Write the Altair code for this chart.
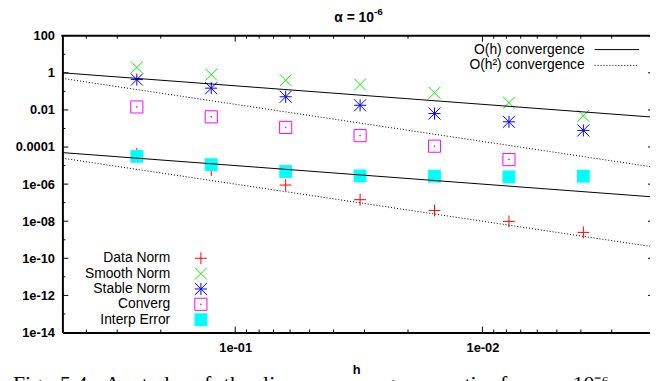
import altair as alt
import pandas as pd

# ---------------- data ----------------
h = [0.25, 0.125, 0.0625, 0.03125, 0.015625, 0.0078125, 0.00390625]
data_norm = [4.2e-5, 5.8e-6, 8.9e-7, 1.45e-7, 3.8e-8, 9.8e-9, 2.5e-9]
smooth_norm = [1.96, 0.80, 0.40, 0.234, 0.084, 0.0245, 0.0048]
stable_norm = [0.434, 0.149, 0.0513, 0.0178, 0.00635, 0.00229, 0.000787]
converg = [0.01445, 0.00424, 0.00114, 0.00041, 0.000111, 2.09e-5]
interp_error = [3.11e-5, 1.12e-5, 4.79e-6, 2.77e-6, 2.67e-6, 2.45e-6, 2.67e-6]

line_h = [0.5, 0.0021]
oh_upper = [1.0, 0.0042]
oh_lower = [5e-5, 2.1e-7]
oh2_upper = [0.5, 8.82e-6]
oh2_lower = [2.5e-5, 4.41e-10]

y_ticks = [100, 1, 0.01, 1e-4, 1e-6, 1e-8, 1e-10, 1e-12, 1e-14]
y_exps = [2, 0, -2, -4, -6, -8, -10, -12, -14]
y_tick_labels = ["100", "1", "0.01", "0.0001", "1e-06", "1e-08", "1e-10", "1e-12", "1e-14"]
y_minor = [10, 0.1, 1e-3, 1e-5, 1e-7, 1e-9, 1e-11, 1e-13]
x_ticks = [0.1, 0.01]
x_exps = [-1, -2]
x_tick_labels = ["1e-01", "1e-02"]
x_minor = [0.4, 0.3, 0.2, 0.09, 0.08, 0.07, 0.06, 0.05, 0.04, 0.03, 0.02,
           0.009, 0.008, 0.007, 0.006, 0.005, 0.004, 0.003]

series_names = ["Data Norm", "Smooth Norm", "Stable Norm", "Converg", "Interp Error"]
series_colors = ["#ff0000", "#00ee00", "#0000ff", "#ff00ff", "#00ffff"]

title_main = "α = 10"
title_sup = "-6"
caption_words = ["Fig.", "5.4:", "A", "study", "of", "the", "linear", "convergence",
                 "ratio", "for", "α = 10⁻⁶"]
line_labels = ["O(h) convergence", "O(h²) convergence"]

# ---------------- layout ----------------
W, H = 594, 300
FONT = "Liberation Sans"


def label_expr(exps, labels):
    e = "''"
    for x, l in reversed(list(zip(exps, labels))):
        e = f"abs(log(datum.value)/LN10 - ({x})) < 0.01 ? '{l}' : ({e})"
    return e


XS = alt.Scale(type="log", domain=[line_h[1], line_h[0]], reverse=True, nice=False)
YS = alt.Scale(type="log", domain=[1e-14, 100], nice=False)

X_AX = alt.Axis(values=x_ticks, labelExpr=label_expr(x_exps, x_tick_labels),
                ticks=False, tickSize=0, grid=False, domainWidth=2, domainColor="black",
                labelFont=FONT, labelFontWeight="bold", labelFontSize=13, labelColor="black",
                labelPadding=9, labelFlush=False, labelOverlap=False,
                title="h", titleFont=FONT, titleFontSize=13, titleFontWeight="bold",
                titleColor="black", titlePadding=9)
Y_AX = alt.Axis(values=y_ticks, labelExpr=label_expr(y_exps, y_tick_labels),
                ticks=False, tickSize=0, grid=False, domainWidth=2, domainColor="black",
                labelFont=FONT, labelFontWeight="bold", labelFontSize=13, labelColor="black",
                labelPadding=8, labelFlush=False, labelOverlap=False, title=None)


def X(f="h"):
    return alt.X(f"{f}:Q", scale=XS, axis=X_AX)


def Y(f="v"):
    return alt.Y(f"{f}:Q", scale=YS, axis=Y_AX)


one = pd.DataFrame({"d": [0]})

PLUS = "M-1,0H1M0,-1V1"
XSHAPE = "M-1,-1L1,1M-1,1L1,-1"
STAR = "M-1,0H1M0,-1V1M-1,-1L1,1M-1,1L1,-1"
BOXDOT = "M-1,-1H1V1H-1ZM-0.06,-0.06H0.06V0.06H-0.06Z"

shapes = [PLUS, XSHAPE, STAR, BOXDOT, "square"]
sizes = [144, 144, 150, 150, 169]
series_vals = [data_norm, smooth_norm, stable_norm, converg, interp_error]

layers = []

# tick marks (inward, gnuplot style)
ymaj = pd.DataFrame({"v": y_ticks})
ymin = pd.DataFrame({"v": y_minor})
xmaj = pd.DataFrame({"h": x_ticks})
xmin = pd.DataFrame({"h": x_minor})
tick_style = dict(color="black", strokeWidth=1)
layers += [
    alt.Chart(ymaj).mark_rule(**tick_style).encode(y=Y(), x=alt.value(0), x2=alt.value(6)),
    alt.Chart(ymin).mark_rule(**tick_style).encode(y=Y(), x=alt.value(0), x2=alt.value(3)),
    alt.Chart(ymaj).mark_rule(**tick_style).encode(y=Y(), x=alt.value(W - 2), x2=alt.value(W)),
    alt.Chart(xmaj).mark_rule(**tick_style).encode(x=X(), y=alt.value(H), y2=alt.value(H - 6)),
    alt.Chart(xmin).mark_rule(**tick_style).encode(x=X(), y=alt.value(H), y2=alt.value(H - 3)),
    alt.Chart(xmaj).mark_rule(**tick_style).encode(x=X(), y=alt.value(0), y2=alt.value(6)),
    alt.Chart(xmin).mark_rule(**tick_style).encode(x=X(), y=alt.value(0), y2=alt.value(3)),
    alt.Chart(one).mark_rule(color="black", strokeWidth=2).encode(
        x=alt.value(-1), x2=alt.value(W), y=alt.value(0)),
]

# data series
for vals, shp, sz, col in zip(series_vals, shapes, sizes, series_colors):
    df = pd.DataFrame({"h": h[:len(vals)], "v": vals})
    if shp == "square":
        m = alt.Chart(df).mark_point(shape="square", filled=True, size=sz, color=col,
                                     opacity=1, strokeWidth=0)
    else:
        m = alt.Chart(df).mark_point(shape=shp, filled=False, size=sz, color=col,
                                     opacity=1, strokeWidth=1)
    layers.append(m.encode(x=X(), y=Y()))

# convergence lines
for vals, dash in [(oh_upper, None), (oh_lower, None), (oh2_upper, [1, 2]), (oh2_lower, [1, 2])]:
    df = pd.DataFrame({"h": line_h, "v": vals})
    kw = dict(color="black", strokeWidth=1)
    if dash:
        kw["strokeDash"] = dash
    layers.append(alt.Chart(df).mark_line(**kw).encode(x=X(), y=Y()))

# top-right legend
for i, (lab, dash) in enumerate(zip(line_labels, [None, [1, 2]])):
    yy = 14 + 16 * i
    layers.append(alt.Chart(one).mark_text(align="right", baseline="middle", font=FONT,
                                           fontSize=14, color="black").encode(
        x=alt.value(528), y=alt.value(yy), text=alt.value(lab)))
    kw = dict(color="black", strokeWidth=1)
    if dash:
        kw["strokeDash"] = dash
    layers.append(alt.Chart(one).mark_rule(**kw).encode(
        x=alt.value(538), x2=alt.value(583), y=alt.value(yy)))

# bottom-left legend
for i, (name, shp, sz, col) in enumerate(zip(series_names, shapes, sizes, series_colors)):
    yy = 225 + 15.5 * i
    layers.append(alt.Chart(one).mark_text(align="right", baseline="middle", font=FONT,
                                           fontSize=14, color="black").encode(
        x=alt.value(109), y=alt.value(yy), text=alt.value(name)))
    if shp == "square":
        mk = alt.Chart(one).mark_point(shape="square", filled=True, size=sz, color=col,
                                       opacity=1, strokeWidth=0)
    else:
        mk = alt.Chart(one).mark_point(shape=shp, filled=False, size=sz, color=col,
                                       opacity=1, strokeWidth=1)
    layers.append(mk.encode(x=alt.value(140), y=alt.value(yy)))

# title
layers.append(alt.Chart(one).mark_text(align="right", baseline="alphabetic", font=FONT,
                                       fontSize=14, fontWeight="bold", color="black").encode(
    x=alt.value(315), y=alt.value(-14), text=alt.value(title_main)))
layers.append(alt.Chart(one).mark_text(align="left", baseline="alphabetic", font=FONT,
                                       fontSize=10, fontWeight="bold", color="black").encode(
    x=alt.value(315), y=alt.value(-21), text=alt.value(title_sup)))

# caption (justified across the width, cut off at page bottom)
caption = "\u2004 ".join(caption_words)
layers.append(alt.Chart(one).mark_text(align="left", baseline="alphabetic",
                                       font="Liberation Serif", fontSize=22,
                                       color="black").encode(
    x=alt.value(-50), y=alt.value(359), text=alt.value(caption)))

chart = alt.layer(*layers).properties(
    width=W, height=H,
    autosize=alt.AutoSizeParams(type="none"),
    padding={"left": 55, "top": 26, "right": 0, "bottom": 47},
    background="white",
).configure_view(stroke=None)

chart.save("out.html", embed_options={"renderer": "svg", "actions": False})
